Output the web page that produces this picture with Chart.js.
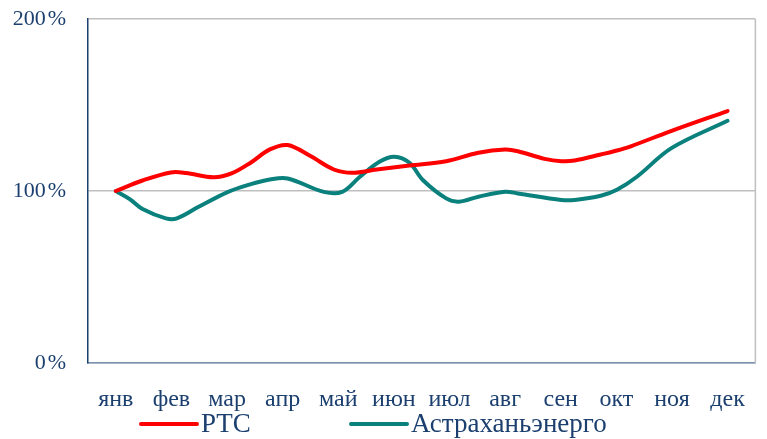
<!DOCTYPE html>
<html>
<head>
<meta charset="utf-8">
<script src="https://cdn.jsdelivr.net/npm/chart.js@4"></script>
<style>
  html, body { margin: 0; padding: 0; background: #ffffff; }
  #wrap { width: 767px; height: 439px; position: relative; }
</style>
</head>
<body>
<div id="wrap"><canvas id="c" width="767" height="439"></canvas></div>
<script>
// Month tick labels (category positions 0..11)
const months = ['янв','фев','мар','апр','май','июн','июл','авг','сен','окт','ноя','дек'];
const yTicks = [0, 100, 200];

// Series names
const seriesNames = ['РТС', 'Астраханьэнерго'];

// РТС: position in the year (month index) and value in %
const rtsT = [0, 0.48, 0.99, 1.26, 1.76, 2.08, 2.43, 2.77, 3.09, 3.50, 3.92, 4.25, 4.69, 5.28, 5.94, 6.52, 7.00, 7.23, 7.71, 8.01, 8.25, 8.72, 8.96, 9.26, 9.97, 11.0];
const rtsV = [100, 106.1, 110.8, 110.5, 108.0, 110.2, 116.6, 124.2, 126.7, 120.3, 112.5, 110.6, 112.5, 114.8, 117.3, 122.2, 124.1, 123.1, 118.7, 117.3, 117.7, 121.2, 123.1, 126.0, 134.7, 146.5];

// Астраханьэнерго
const astT = [0, 0.25, 0.48, 0.90, 1.10, 1.49, 2.02, 2.43, 2.77, 3.09, 3.74, 4.07, 4.39, 4.74, 5.01, 5.28, 5.52, 5.94, 6.17, 6.52, 7.00, 7.23, 8.01, 8.25, 8.72, 9.01, 9.37, 9.99, 11.0];
const astV = [100, 95.3, 89.5, 84.1, 84.1, 90.8, 99.5, 104.0, 106.7, 107.3, 99.5, 99.5, 108.3, 117.0, 119.9, 116.4, 106.4, 95.7, 93.8, 96.7, 99.6, 98.6, 94.8, 94.8, 97.2, 100.7, 108.3, 124.9, 140.8];

const toPoints = (ts, vs) => ts.map((t, i) => ({ x: t, y: vs[i] }));

const NAVY = '#1B3F6E';
const FONT = "'Liberation Serif', 'Times New Roman', serif";

// Custom legend drawn under the axis labels
const legendPlugin = {
  id: 'lineLegend',
  afterDraw(chart, args, opts) {
    const ctx = chart.ctx;
    ctx.save();
    chart.data.datasets.forEach((ds, i) => {
      const it = opts.items[i];
      ctx.strokeStyle = ds.borderColor;
      ctx.lineWidth = 4;
      ctx.lineCap = 'round';
      ctx.beginPath();
      ctx.moveTo(it.x0, opts.y);
      ctx.lineTo(it.x1, opts.y);
      ctx.stroke();
      ctx.fillStyle = NAVY;
      ctx.font = opts.font;
      ctx.textBaseline = 'middle';
      ctx.textAlign = 'left';
      ctx.fillText(ds.label, it.x1 + 4, opts.y + 1);
    });
    ctx.restore();
  }
};

// Right edge of the plot frame
const framePlugin = {
  id: 'frame',
  beforeDatasetsDraw(chart) {
    const { ctx, chartArea: a } = chart;
    ctx.save();
    ctx.strokeStyle = '#BFBFBF';
    ctx.lineWidth = 1.5;
    ctx.beginPath();
    ctx.moveTo(a.right, a.top);
    ctx.lineTo(a.right, a.bottom);
    ctx.stroke();
    ctx.restore();
  }
};

new Chart(document.getElementById('c'), {
  type: 'line',
  data: {
    datasets: [
      {
        label: seriesNames[0],
        data: toPoints(rtsT, rtsV),
        borderColor: '#FF0000',
        backgroundColor: '#FF0000',
        borderWidth: 4,
        pointRadius: 0,
        tension: 0.35,
        borderCapStyle: 'round',
        borderJoinStyle: 'round'
      },
      {
        label: seriesNames[1],
        data: toPoints(astT, astV),
        borderColor: '#0B817D',
        backgroundColor: '#0B817D',
        borderWidth: 4,
        pointRadius: 0,
        tension: 0.35,
        borderCapStyle: 'round',
        borderJoinStyle: 'round'
      }
    ]
  },
  options: {
    responsive: false,
    animation: false,
    layout: { padding: { left: 0, right: 4, top: 19, bottom: 0 } },
    plugins: {
      legend: { display: false },
      tooltip: { enabled: false },
      lineLegend: {
        y: 424,
        font: "27px " + FONT,
        items: [ { x0: 141, x1: 197 }, { x0: 351, x1: 407 } ]
      }
    },
    scales: {
      x: {
        type: 'linear',
        min: -0.5,
        max: 11.5,
        afterBuildTicks(axis) { axis.ticks = months.map((m, i) => ({ value: i })); },
        afterFit(axis) { axis.height = 76; },
        ticks: {
          autoSkip: false,
          maxRotation: 0,
          padding: 22,
          color: NAVY,
          font: { family: FONT, size: 24 },
          callback: (v) => months[v]
        },
        grid: { display: false, drawTicks: false },
        border: { display: true, color: '#7890B0', width: 1.5 }
      },
      y: {
        min: 0,
        max: 200,
        afterBuildTicks(axis) { axis.ticks = yTicks.map(v => ({ value: v })); },
        afterFit(axis) { axis.width = 88; axis.paddingTop = 0; axis.paddingBottom = 0; },
        ticks: {
          padding: 22,
          color: NAVY,
          font: { family: FONT, size: 22 },
          callback: (v) => v + '\u200A%'
        },
        grid: { color: '#BFBFBF', lineWidth: 1.5, drawTicks: false },
        border: { display: true, color: NAVY, width: 1.5 }
      }
    }
  },
  plugins: [legendPlugin, framePlugin]
});
</script>
</body>
</html>
